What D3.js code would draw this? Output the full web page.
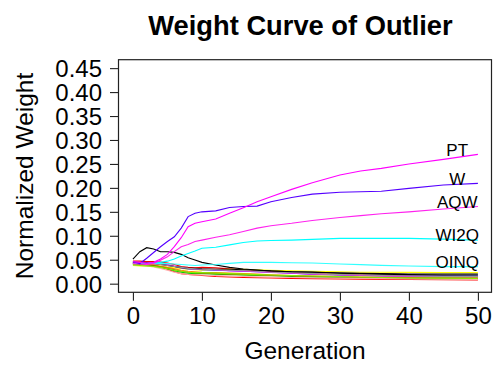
<!DOCTYPE html>
<html><head><meta charset="utf-8">
<script src="https://cdn.jsdelivr.net/npm/d3@7"></script>
<style>body{margin:0;background:#fff}svg{display:block}text{font-family:"Liberation Sans",Arial,sans-serif}</style>
</head><body><svg id="c" width="493" height="365"></svg>
<script>
const generations = [0,1,2,3,4,5,6,7,8,9,10,12,14,16,18,20,23,26,30,33,36,40,45,50];
const xTicks = [0,10,20,30,40,50];
const yTicks = [0,0.05,0.10,0.15,0.20,0.25,0.30,0.35,0.40,0.45];

// bundle of lower lines
const redLow   = [0.042,0.041,0.040,0.039,0.035,0.030,0.025,0.021,0.019,0.018,0.017,0.015,0.014,0.013,0.0125,0.012,0.011,0.0105,0.010,0.0095,0.009,0.0088,0.0083,0.0077];
const redHigh  = [0.047,0.047,0.046,0.046,0.045,0.043,0.040,0.036,0.034,0.033,0.034,0.033,0.031,0.029,0.027,0.025,0.023,0.021,0.019,0.018,0.017,0.016,0.0155,0.015];
const yellowS  = [0.038,0.037,0.037,0.036,0.035,0.034,0.033,0.032,0.030,0.029,0.028,0.029,0.030,0.030,0.029,0.028,0.027,0.026,0.025,0.024,0.024,0.0235,0.023,0.023];
const greenS   = [0.040,0.039,0.038,0.037,0.034,0.031,0.027,0.024,0.022,0.021,0.021,0.020,0.019,0.018,0.017,0.0165,0.015,0.014,0.013,0.0125,0.012,0.011,0.0105,0.010];
const blueS    = [0.044,0.043,0.043,0.042,0.041,0.039,0.036,0.033,0.031,0.030,0.029,0.028,0.027,0.026,0.025,0.024,0.022,0.020,0.018,0.017,0.016,0.016,0.016,0.016];
const magentaS = [0.045,0.044,0.044,0.043,0.042,0.040,0.037,0.034,0.032,0.031,0.030,0.029,0.027,0.026,0.025,0.0235,0.022,0.020,0.018,0.017,0.016,0.015,0.014,0.0135];
const blackLow = [0.044,0.043,0.043,0.042,0.040,0.038,0.036,0.034,0.032,0.032,0.031,0.030,0.030,0.029,0.028,0.027,0.025,0.024,0.022,0.021,0.020,0.019,0.018,0.018];
const grayS    = [0.043,0.043,0.042,0.041,0.040,0.038,0.036,0.034,0.032,0.031,0.030,0.029,0.028,0.027,0.026,0.024,0.023,0.021,0.019,0.018,0.017,0.016,0.015,0.015];
const orangeS  = [0.042,0.041,0.040,0.039,0.037,0.034,0.031,0.028,0.026,0.025,0.024,0.023,0.022,0.021,0.020,0.0185,0.017,0.016,0.015,0.014,0.0135,0.013,0.0125,0.012];
const brownS   = [0.041,0.040,0.039,0.038,0.035,0.032,0.029,0.026,0.024,0.023,0.022,0.021,0.020,0.019,0.018,0.017,0.016,0.015,0.014,0.013,0.0125,0.012,0.0115,0.011];
const pinkS    = [0.039,0.038,0.037,0.035,0.032,0.028,0.024,0.021,0.019,0.018,0.018,0.017,0.016,0.015,0.0145,0.014,0.013,0.012,0.0115,0.011,0.0105,0.010,0.0095,0.009];
const limeS    = [0.039,0.038,0.037,0.036,0.034,0.031,0.028,0.026,0.024,0.023,0.023,0.022,0.021,0.020,0.019,0.018,0.017,0.016,0.015,0.014,0.013,0.012,0.0115,0.011];
const blackHump= [0.0515,0.0668,0.0752,0.0724,0.0668,0.0668,0.0654,0.0612,0.0543,0.0494,0.0445,0.039,0.034,0.0306,0.0285,0.0264,0.025,0.0244,0.0223,0.0216,0.0209,0.0202,0.0202,0.0202];

// labelled lines
const OINQ = [0.042,0.042,0.0424,0.0424,0.042,0.0418,0.041,0.040,0.039,0.038,0.039,0.040,0.0424,0.0445,0.0445,0.0445,0.0438,0.0431,0.041,0.0397,0.0383,0.037,0.0355,0.0355];
const WI2Q = [0.042,0.042,0.042,0.043,0.0445,0.047,0.0515,0.058,0.063,0.068,0.074,0.076,0.081,0.086,0.089,0.090,0.091,0.0925,0.0946,0.0946,0.0946,0.0946,0.093,0.091];
const AQW  = [0.042,0.041,0.040,0.042,0.049,0.056,0.067,0.077,0.082,0.088,0.091,0.097,0.102,0.109,0.116,0.121,0.126,0.132,0.138,0.142,0.146,0.150,0.156,0.161];
const W    = [0.046,0.042,0.053,0.065,0.077,0.088,0.098,0.116,0.140,0.147,0.150,0.152,0.159,0.161,0.162,0.171,0.180,0.187,0.191,0.192,0.193,0.199,0.206,0.2095];
const PT   = [0.0459,0.0445,0.0424,0.0445,0.0515,0.0612,0.0772,0.096,0.119,0.126,0.1294,0.135,0.1468,0.1587,0.1712,0.1816,0.1969,0.2109,0.2269,0.2352,0.2408,0.2498,0.2596,0.270];

const seriesNames  = ["redLow","redHigh","yellow","green","blue","magenta","black","gray","orange","brown","pink","lime","blackHump","OINQ","WI2Q","AQW","W","PT"];
const seriesValues = [redLow,redHigh,yellowS,greenS,blueS,magentaS,blackLow,grayS,orangeS,brownS,pinkS,limeS,blackHump,OINQ,WI2Q,AQW,W,PT];
const seriesColors = ["#ff0000","#ee0000","#ffff00","#00cc00","#2222ff","#ff00ff","#000000","#999999","#ff8800","#887700","#ffaaaa","#88ee00","#000000","#33ffff","#00ffff","#ff22ee","#5500ff","#ff00ff"];
const labelNames = ["PT","W","AQW","WI2Q","OINQ"];

const svg = d3.select("#c");
const L = 118.5, R = 491.5, T = 59.7, B = 292.3;
const x = d3.scaleLinear().domain([-2.09, 51.97]).range([L, R]);
const y = d3.scaleLinear().domain([-0.018, 0.4676]).range([B, T]);

const line = d3.line().x((d,i)=>x(generations[i])).y(d=>y(d));
seriesValues.forEach((vals,k)=>{
  svg.append("path").attr("d", line(vals)).attr("fill","none")
    .attr("stroke", seriesColors[k]).attr("stroke-width",1.1);
});

// labels
labelNames.forEach(n=>{
  const vals = seriesValues[seriesNames.indexOf(n)];
  svg.append("text").attr("x", x(47)).attr("y", y(vals[vals.length-1] + 0.01))
    .attr("dy","0.36em").attr("text-anchor","middle").attr("font-size",17).text(n);
});

// box
svg.append("rect").attr("x",L).attr("y",T).attr("width",R-L).attr("height",B-T)
  .attr("fill","none").attr("stroke","#222").attr("stroke-width",1.2);

// axes
const xa = svg.append("g").attr("transform",`translate(0,${B})`)
  .call(d3.axisBottom(x).tickValues(xTicks).tickSize(8.5).tickPadding(6).tickFormat(d3.format("d")));
const ya = svg.append("g").attr("transform",`translate(${L},0)`)
  .call(d3.axisLeft(y).tickValues(yTicks).tickSize(8.5).tickPadding(8).tickFormat(d3.format(".2f")));
[xa,ya].forEach(g=>{
  g.select(".domain").remove();
  g.selectAll("line").attr("stroke","#222").attr("stroke-width",1.1);
  g.selectAll("text").attr("font-size",24).attr("fill","#000").style("font-family",'"Liberation Sans",Arial,sans-serif');
});
ya.selectAll("text").attr("dy","0.36em");

// titles
svg.append("text").attr("x",300.5).attr("y",34.5).attr("text-anchor","middle")
  .attr("font-size",27.3).attr("font-weight","bold").text("Weight Curve of Outlier");
svg.append("text").attr("x",(L+R)/2).attr("y",359).attr("text-anchor","middle")
  .attr("font-size",24.5).text("Generation");
svg.append("text").attr("transform",`translate(33,${(T+B)/2}) rotate(-90)`).attr("text-anchor","middle")
  .attr("font-size",24.5).text("Normalized Weight");
</script></body></html>
